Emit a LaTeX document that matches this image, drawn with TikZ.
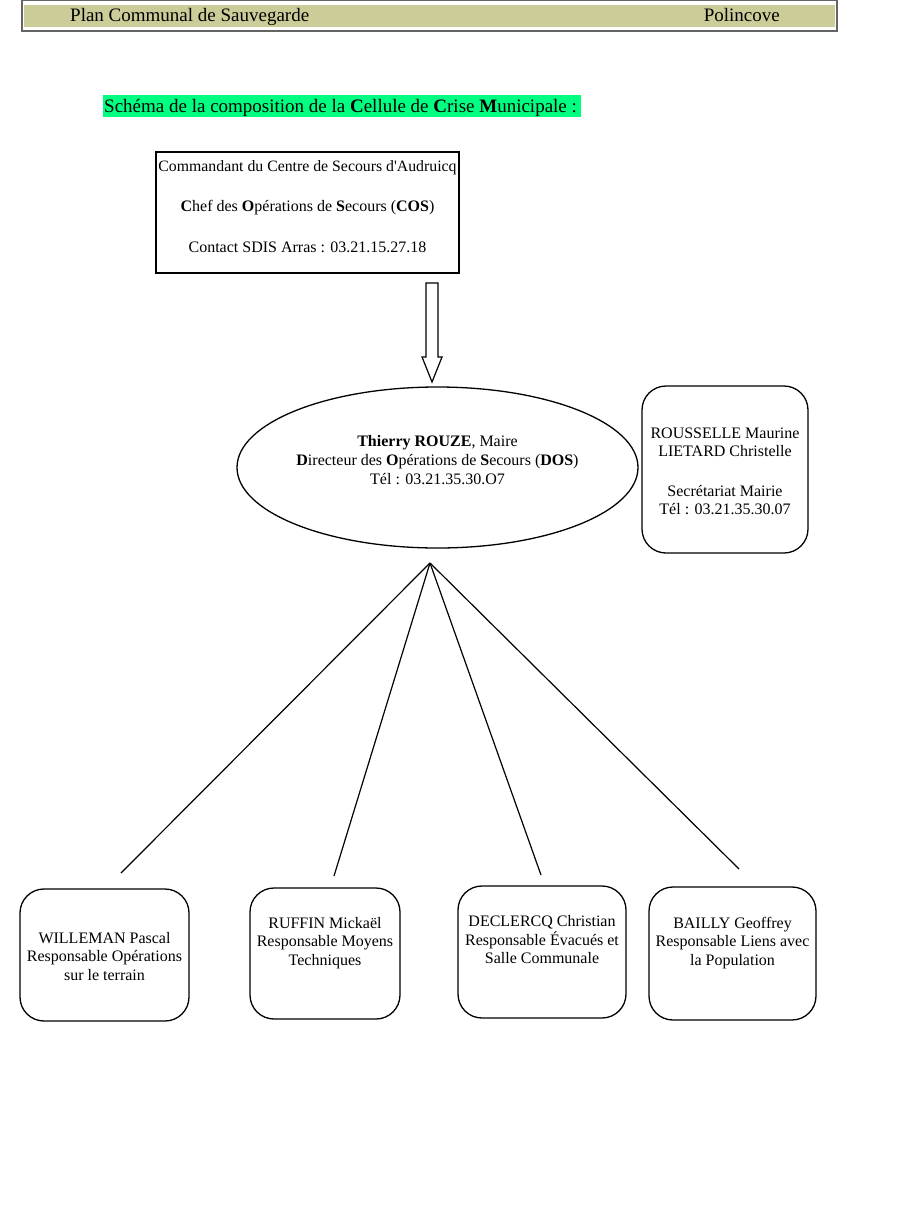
\documentclass[tikz,border=0pt]{standalone}
\usepackage{fontspec}
\setmainfont{Liberation Serif}
\newfontfamily\plainserif{Liberation Serif}
\definecolor{hdrfill}{RGB}{204,204,153}
\definecolor{hdrline}{RGB}{100,100,100}
\definecolor{titlegreen}{RGB}{0,255,128}
\begin{document}
\begin{tikzpicture}[x=1pt,y=-1pt,
  txt/.style={inner sep=0pt,align=center,font=\fontsize{16}{18.5}\selectfont},
  rbox/.style={draw,line width=1.3pt,rounded corners=24pt,inner sep=0pt},
  conn/.style={line width=1.2pt}]
\useasboundingbox (0,0) rectangle (907,1223);
% header
\node[draw=hdrline,line width=1.2pt,fill=white,minimum width=815pt,minimum height=31pt,inner sep=0pt] (hdr) at (429.5,15.5) {};
\node[fill=hdrfill,minimum width=811pt,minimum height=22pt,inner sep=0pt] (hdrband) at (429.5,16) {};
\node[anchor=base west,inner sep=0pt,font=\fontsize{19}{21}\selectfont] (plan) at (70,22) {Plan Communal de Sauvegarde};
\node[anchor=base east,inner sep=0pt,font=\fontsize{19}{21}\selectfont] (commune) at (780,22) {Polincove};
% title
\node[fill=titlegreen,minimum width=478pt,minimum height=22pt,inner sep=0pt] (titlebg) at (342,106) {};
\node[anchor=base west,inner sep=0pt,font=\fontsize{19}{21}\selectfont] (title) at (104,112) {Schéma de la composition de la \textbf{C}ellule de \textbf{C}rise \textbf{M}unicipale :};
% COS box
\node[draw,line width=1.3pt,minimum width=303pt,minimum height=121pt,inner sep=0pt] (cos) at (307.5,212.5) {};
\node[txt,anchor=base,font=\fontsize{15.8}{18.5}\selectfont] (cos1) at (307.5,171) {Commandant du Centre de Secours d{\plainserif '}Audruicq};
\node[txt,anchor=base] (cos2) at (307.5,211) {\textbf{C}hef des \textbf{O}pérations de \textbf{S}ecours (\textbf{COS})};
\node[txt,anchor=base] (cos3) at (307.5,252) {Contact SDIS Arras : 03.21.15.27.18};
% block arrow
\draw[line width=1.2pt,fill=white] (426,283) -- (438,283) -- (438,357) -- (442,357) -- (432,382) -- (422,357) -- (426,357) -- cycle;
% ellipse
\draw[line width=1.3pt] (437.5,467.5) ellipse [x radius=200.5pt, y radius=80.5pt];
\coordinate (dos) at (437.5,467.5);
\node[txt,anchor=base] (dos1) at (437.5,446) {\textbf{Thierry ROUZE}, Maire};
\node[txt,anchor=base] (dos2) at (437.5,465) {\textbf{D}irecteur des \textbf{O}pérations de \textbf{S}ecours (\textbf{DOS})};
\node[txt,anchor=base] (dos3) at (437.5,484) {Tél : 03.21.35.30.O7};
% secretariat
\node[rbox,minimum width=166pt,minimum height=167pt] (sec) at (725,469.5) {};
\node[txt,anchor=base] (sec1) at (725,438) {ROUSSELLE Maurine};
\node[txt,anchor=base] (sec2) at (725,456.5) {LIETARD Christelle};
\node[txt,anchor=base] (sec3) at (725,496) {Secrétariat Mairie};
\node[txt,anchor=base] (sec4) at (725,514.5) {Tél : 03.21.35.30.07};
% connectors
\coordinate (hub) at (430,563);
\coordinate (e1) at (121,873);
\coordinate (e2) at (334,876);
\coordinate (e3) at (541,875);
\coordinate (e4) at (739,869);
\draw[conn] (hub) -- (e1);
\draw[conn] (hub) -- (e2);
\draw[conn] (hub) -- (e3);
\draw[conn] (hub) -- (e4);
% bottom boxes
\node[rbox,minimum width=169pt,minimum height=132pt] (b1) at (104.5,955) {};
\node[txt,anchor=base] (b1t) at (104.5,980) {WILLEMAN Pascal\\Responsable Opérations\\sur le terrain};
\node[rbox,minimum width=150pt,minimum height=131pt] (b2) at (325,953.5) {};
\node[txt,anchor=base] (b2t) at (325,965) {RUFFIN Mickaël\\Responsable Moyens\\Techniques};
\node[rbox,minimum width=168pt,minimum height=132pt] (b3) at (542,952) {};
\node[txt,anchor=base] (b3t) at (542,963.5) {DECLERCQ Christian\\Responsable Évacués et\\Salle Communale};
\node[rbox,minimum width=167pt,minimum height=133pt] (b4) at (732.5,953.5) {};
\node[txt,anchor=base] (b4t) at (732.5,965) {BAILLY Geoffrey\\Responsable Liens avec\\la Population};
\end{tikzpicture}
\end{document}
